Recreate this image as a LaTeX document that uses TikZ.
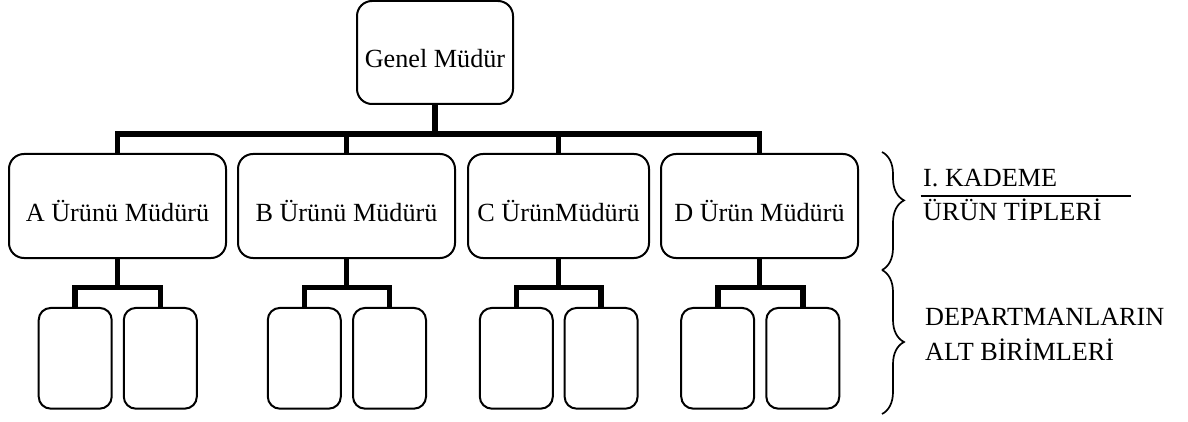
\documentclass[tikz,border=0pt]{standalone}
\usepackage{fontspec}
\setmainfont{Liberation Serif}
\usetikzlibrary{decorations.pathreplacing}
\begin{document}
\begin{tikzpicture}[x=1pt,y=-1pt,
  txt/.style={font=\fontsize{26.2}{31}\selectfont},
  bigbox/.style={txt,draw,line width=2pt,rounded corners=15pt,inner sep=0pt,
    text height=31pt,text depth=0pt,minimum height=104pt},
  smallbox/.style={draw,line width=2pt,rounded corners=12pt,inner sep=0pt,
    minimum width=73pt,minimum height=100.7pt},
  conn/.style={line width=5.6pt,line join=miter,line cap=rect},
  label/.style={txt,inner sep=0pt,anchor=base west},
  bracestyle/.style={decorate,line width=1.7pt,decoration={brace,amplitude=22pt,#1}}
]
\useasboundingbox (0,0) rectangle (1188,422);
% top
\node[bigbox,minimum width=156pt,minimum height=103pt] (gm) at (435,52.5) {Genel Müdür};
% level 1
\node[bigbox,minimum width=217pt] (A) at (117.5,206) {A Ürünü Müdürü};
\node[bigbox,minimum width=217pt] (B) at (346.5,206) {B Ürünü Müdürü};
\node[bigbox,minimum width=181pt] (C) at (558.5,206) {C ÜrünMüdürü};
\node[bigbox,minimum width=197pt] (D) at (759.5,206) {D Ürün Müdürü};
% level 2
\node[smallbox] (A1) at (75.2,358.3) {};
\node[smallbox] (A2) at (160.3,358.3) {};
\node[smallbox] (B1) at (304.3,358.3) {};
\node[smallbox] (B2) at (389.5,358.3) {};
\node[smallbox] (C1) at (516.3,358.3) {};
\node[smallbox] (C2) at (601.1,358.3) {};
\node[smallbox] (D1) at (717.7,358.3) {};
\node[smallbox] (D2) at (802.8,358.3) {};
% top connectors
\draw[conn,line cap=butt] (gm.south) -- ++(0,31);
\draw[conn,line cap=butt] (A.north) -- ++(0,-19) -| (D.north);
\draw[conn,line cap=butt] (B.north) -- ++(0,-19);
\draw[conn,line cap=butt] (C.north) -- ++(0,-19);
% lower connectors
\foreach \p in {A,B,C,D}{
  \draw[conn,line cap=butt] (\p.south) -- ++(0,30.7);
  \draw[conn,line cap=butt] (\p1.north) -- ++(0,-19.3) -| (\p2.north);
}
% braces
\coordinate (br1) at (882,152);
\coordinate (br2) at (882,270);
\coordinate (br3) at (882,414);
\draw[bracestyle={aspect=0.41}] (br1) -- (br2);
\draw[bracestyle={aspect=0.5}] (br2) -- (br3);
% labels
\node[label] (k1) at (923,186) {I. KADEME};
\node[label] (k2) at (923,220) {ÜRÜN TİPLERİ};
\coordinate (ul1) at (920.7,196);
\coordinate (ul2) at (1130.7,196);
\draw[line width=2pt] (ul1) -- (ul2);
\node[label] (d1) at (925,325) {DEPARTMANLARIN};
\node[label] (d2) at (925,360) {ALT BİRİMLERİ};
\end{tikzpicture}
\end{document}
